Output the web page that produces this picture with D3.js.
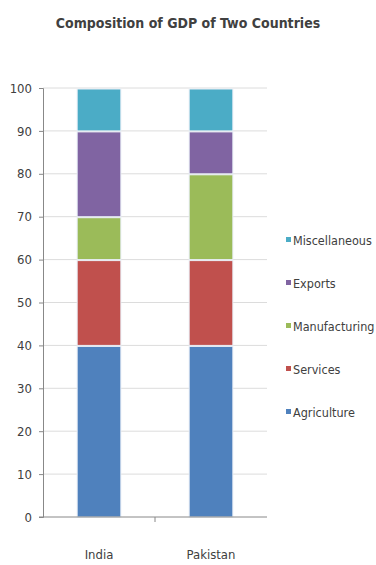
<!DOCTYPE html>
<html>
<head>
<meta charset="utf-8">
<script src="https://cdn.jsdelivr.net/npm/d3@7"></script>
<style>
  body { margin: 0; background: #fff; }
  text { font-family: "DejaVu Sans Condensed", "DejaVu Sans", sans-serif; fill: #404040; }
</style>
</head>
<body>
<script>
var countries = ['India', 'Pakistan']
var sectors = ['Agriculture', 'Services', 'Manufacturing', 'Exports', 'Miscellaneous']
var india = [40, 20, 10, 20, 10]
var pakistan = [40, 20, 20, 10, 10]
var yTicks = [0, 10, 20, 30, 40, 50, 60, 70, 80, 90, 100]
var colors = ['#4f81bd', '#c0504d', '#9bbb59', '#8064a2', '#4bacc6']

var W = 376, H = 565
var plotL = 43, plotR = 267, plotT = 88, plotB = 517

var svg = d3.select('body').append('svg')
  .attr('width', W)
  .attr('height', H)

svg.append('text')
  .attr('x', 188).attr('y', 28)
  .attr('text-anchor', 'middle')
  .style('font-size', '14px')
  .style('font-weight', 'bold')
  .text('Composition of GDP of Two Countries')

var x = d3.scaleBand().domain(countries).range([plotL, plotR])
var y = d3.scaleLinear().domain([0, 100]).range([plotB, plotT])

// gridlines
svg.append('g').selectAll('line').data(yTicks.slice(1))
  .enter().append('line')
    .attr('x1', plotL).attr('x2', plotR)
    .attr('y1', function(d) { return y(d) })
    .attr('y2', function(d) { return y(d) })
    .attr('stroke', '#dcdcdc')

// stacked bars
var rows = countries.map(function(c, i) {
  var r = { country: c }
  var vals = i == 0 ? india : pakistan
  sectors.forEach(function(s, j) { r[s] = vals[j] })
  return r
})
var series = d3.stack().keys(sectors)(rows)
var bw = x.bandwidth() * 0.39

svg.append('g').selectAll('g').data(series)
  .enter().append('g')
    .attr('fill', function(d, i) { return colors[i] })
  .selectAll('rect').data(function(d) { return d })
  .enter().append('rect')
    .attr('x', function(d) { return x(d.data.country) + (x.bandwidth() - bw) / 2 })
    .attr('width', bw)
    .attr('y', function(d) { return y(d[1]) + 1 })
    .attr('height', function(d) { return y(d[0]) - y(d[1]) - 1 })
    .attr('stroke', '#e8eef6')
    .attr('stroke-width', 1)

// y axis
var yAxis = svg.append('g')
  .attr('transform', 'translate(' + plotL + ',0)')
  .call(d3.axisLeft(y).tickValues(yTicks).tickSize(4).tickPadding(7))
yAxis.select('.domain').attr('stroke', '#888')
yAxis.selectAll('.tick line').attr('stroke', '#888')
yAxis.selectAll('text').style('font-size', '13px').attr('fill', '#404040')
  .style('font-family', '"DejaVu Sans Condensed", sans-serif')

// x axis
svg.append('line')
  .attr('x1', plotL - 4).attr('x2', plotR)
  .attr('y1', plotB).attr('y2', plotB)
  .attr('stroke', '#888')
svg.append('g').selectAll('line').data(countries.slice(1))
  .enter().append('line')
    .attr('x1', function(d) { return x(d) }).attr('x2', function(d) { return x(d) })
    .attr('y1', plotB).attr('y2', plotB + 5)
    .attr('stroke', '#888')
svg.append('g').selectAll('text').data(countries)
  .enter().append('text')
    .attr('x', function(d) { return x(d) + x.bandwidth() / 2 })
    .attr('y', 559)
    .attr('text-anchor', 'middle')
    .style('font-size', '13px')
    .text(function(d) { return d })

// legend, top to bottom reversed
var legend = svg.append('g').selectAll('g').data(sectors.slice().reverse())
  .enter().append('g')
    .attr('transform', function(d, i) { return 'translate(286,' + (241 + i * 43) + ')' })
legend.append('rect')
  .attr('x', 0).attr('y', -4).attr('width', 5).attr('height', 5)
  .attr('fill', function(d) { return colors[sectors.indexOf(d)] })
legend.append('text')
  .attr('x', 7).attr('y', 4)
  .style('font-size', '12.5px')
  .text(function(d) { return d })
</script>
</body>
</html>
